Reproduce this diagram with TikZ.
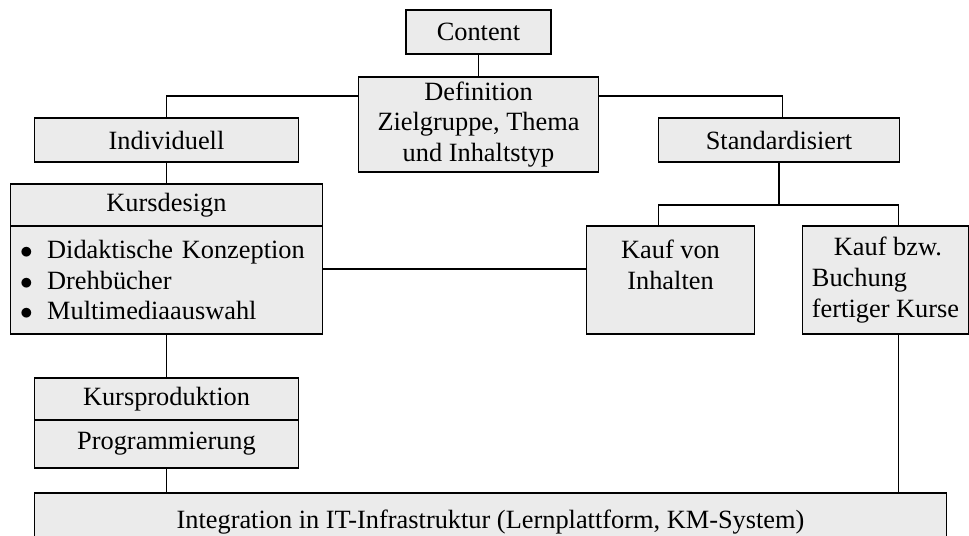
\documentclass[tikz,border=0pt]{standalone}
\usepackage{fontspec}
\setmainfont{Liberation Serif}
\usetikzlibrary{positioning}
\definecolor{boxgray}{gray}{0.92}
\tikzstyle{block} = [draw, rectangle, fill=boxgray, line width=0.9pt, inner sep=0pt, font=\fontsize{15}{17.6}\selectfont]
\tikzstyle{line} = [draw, line width=0.9pt]
\newcommand{\listdot}{$\bullet$\hspace{0.55em}}

\begin{document}
\begin{tikzpicture}[auto, node distance=2cm]
\useasboundingbox (0,0) rectangle (19.38,-10.72);

\node [block, minimum width=2.9cm, minimum height=0.88cm] (content) at (9.57,-0.64) {Content};
\node [block, below of=content, node distance=1.85cm, minimum width=4.8cm, minimum height=1.9cm, align=center] (definition) {Definition\\Zielgruppe, Thema\\und Inhaltstyp};
\node [block, left of=definition, node distance=6.24cm, yshift=-0.31cm, minimum width=5.28cm, minimum height=0.88cm] (individuell) {Individuell};
\node [block, right of=definition, node distance=6.01cm, yshift=-0.31cm, minimum width=4.82cm, minimum height=0.88cm] (standard) {Standardisiert};

\node [block, below of=individuell, node distance=1.3cm, minimum width=6.24cm, minimum height=0.84cm] (design) {Kursdesign};
\node [block, below of=design, node distance=1.5cm, text width=5.86cm, inner xsep=0.19cm, minimum height=2.16cm, align=left] (designlist) {\listdot Didaktische Konzeption\\\listdot Drehbücher\\\listdot Multimediaauswahl};
\node [block, right of=designlist, node distance=10.08cm, minimum width=3.36cm, minimum height=2.16cm, align=center] (inhalte) {Kauf von\\Inhalten\\~};
\node [block, right of=inhalte, node distance=4.3cm, minimum width=3.32cm, minimum height=2.16cm, align=left] (kurse) {\hspace*{0.44cm}Kauf bzw.\\Buchung\\fertiger Kurse};

\node [block, below of=designlist, node distance=2.38cm, minimum width=5.28cm, minimum height=0.84cm] (produktion) {Kursproduktion};
\node [block, below of=produktion, node distance=0.9cm, minimum width=5.28cm, minimum height=0.96cm] (programm) {Programmierung};
\node [block, below of=programm, node distance=1.56cm, xshift=6.48cm, minimum width=18.24cm, minimum height=1.16cm] (integration) {Integration in IT-Infrastruktur (Lernplattform, KM-System)};

\draw [line] (content) -- (definition);
\draw [line] ([yshift=-0.4cm]definition.north west) -| (individuell.north);
\draw [line] ([yshift=-0.4cm]definition.north east) -| ([xshift=0.07cm]standard.north);
\draw [line] (individuell) -- (design);
\draw [line] (standard) -- ([yshift=-0.84cm]standard.south);
\draw [line] ([xshift=-0.24cm]inhalte.north) |- ([yshift=-0.84cm]standard.south) -| ([xshift=0.26cm]kurse.north);
\draw [line] ([yshift=0.22cm]designlist.east) -- ([yshift=0.22cm]designlist.east -| inhalte.west);
\draw [line] (designlist) -- (produktion);
\draw [line] (programm) -- (programm |- integration.north);
\draw [line] ([xshift=0.26cm]kurse.south) -- ([xshift=0.26cm]kurse.south |- integration.north);

\end{tikzpicture}
\end{document}
